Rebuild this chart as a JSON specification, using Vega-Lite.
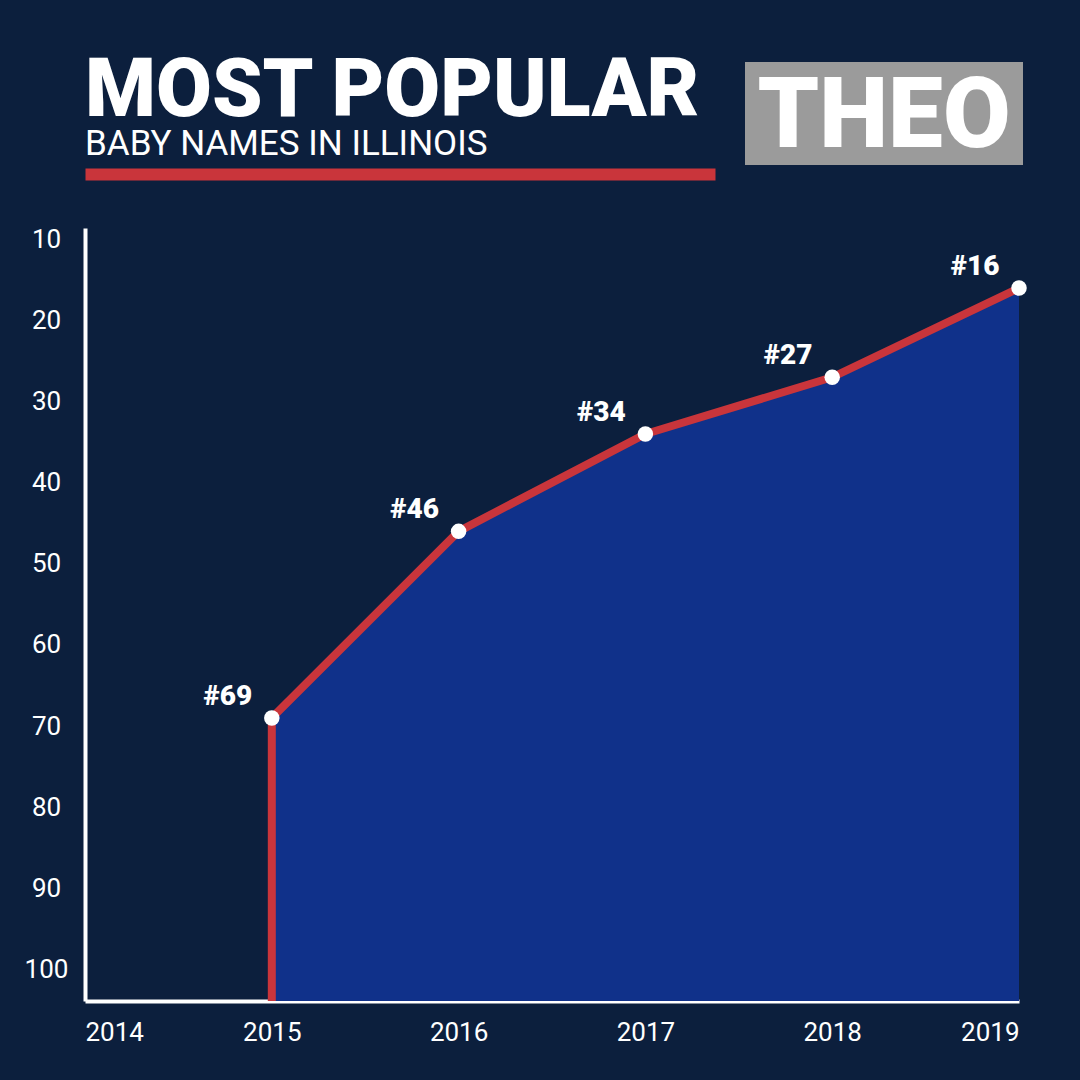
{
  "$schema": "https://vega.github.io/schema/vega-lite/v6.json",
  "background": "#0c1f3d",
  "padding": {"left": 24, "top": 51, "right": 57, "bottom": 35},
  "bounds": "flush",
  "spacing": 166,
  "config": {
    "view": {"stroke": null},
    "font": "Roboto",
    "axis": {
      "labelFont": "Roboto",
      "labelFontSize": 26,
      "labelColor": "white",
      "domainColor": "white",
      "domainWidth": 4,
      "ticks": false,
      "tickSize": 0,
      "grid": false,
      "title": null
    }
  },
  "datasets": {
    "ranks": [
      {"year": 2015, "rank": 69, "label": "#69"},
      {"year": 2016, "rank": 46, "label": "#46"},
      {"year": 2017, "rank": 34, "label": "#34"},
      {"year": 2018, "rank": 27, "label": "#27"},
      {"year": 2019, "rank": 16, "label": "#16"}
    ],
    "name": [{"name": "THEO"}]
  },
  "vconcat": [
    {
      "spacing": 30,
      "hconcat": [
        {
          "width": 630,
          "height": 112,
          "title": {
            "text": "MOST POPULAR",
            "subtitle": "BABY NAMES IN ILLINOIS",
            "anchor": "start",
            "frame": "group",
            "font": "Roboto",
            "fontSize": 81,
            "fontWeight": 900,
            "color": "white",
            "subtitleFont": "Roboto",
            "subtitleFontSize": 35,
            "subtitleFontWeight": "normal",
            "subtitleColor": "white",
            "subtitlePadding": -6,
            "offset": -101
          },
          "data": {"name": "name"},
          "mark": {"type": "text", "opacity": 0},
          "encoding": {
            "text": {"field": "name"},
            "x": {
              "datum": 0,
              "type": "quantitative",
              "scale": {"domain": [0, 1], "nice": false},
              "axis": {"orient": "bottom", "labels": false, "ticks": false, "domainColor": "#c9353b", "domainWidth": 12, "domainCap": "butt"}
            }
          }
        },
        {
          "width": 278,
          "height": 103,
          "view": {"fill": "#9b9b9b", "stroke": null},
          "data": {"name": "name"},
          "mark": {
            "type": "text",
            "font": "Roboto",
            "fontSize": 98,
            "fontWeight": 900,
            "color": "white",
            "align": "center",
            "baseline": "middle",
            "dy": 4
          },
          "encoding": {"text": {"field": "name"}}
        }
      ]
    },
    {
      "width": 934,
      "height": 773,
      "data": {"name": "ranks"},
      "encoding": {
        "x": {
          "field": "year",
          "type": "quantitative",
          "scale": {"domain": [2014, 2019], "nice": false, "zero": false},
          "axis": {"values": [2014, 2015, 2016, 2017, 2018, 2019], "format": "d", "labelFlush": true, "labelPadding": 18}
        },
        "y": {
          "field": "rank",
          "type": "quantitative",
          "scale": {"domain": [8.6, 103.9], "nice": false, "zero": false, "reverse": true},
          "axis": {"values": [10, 20, 30, 40, 50, 60, 70, 80, 90, 100], "labelAlign": "center", "labelPadding": 39}
        }
      },
      "layer": [
        {
          "mark": {"type": "area", "color": "#10318a", "opacity": 1},
          "encoding": {"y2": {"datum": 103.9}}
        },
        {
          "transform": [{"filter": "datum.year == 2015"}],
          "mark": {"type": "rule", "color": "#c9353b", "strokeWidth": 8},
          "encoding": {"y2": {"datum": 103.9}}
        },
        {
          "mark": {"type": "line", "color": "#c9353b", "strokeWidth": 8, "strokeJoin": "round"}
        },
        {
          "mark": {"type": "circle", "color": "white", "opacity": 1, "size": 240}
        },
        {
          "mark": {
            "type": "text",
            "color": "white",
            "font": "Roboto",
            "fontSize": 28,
            "fontWeight": 900,
            "dx": -44,
            "dy": -21,
            "align": "center",
            "baseline": "middle"
          },
          "encoding": {"text": {"field": "label"}}
        }
      ]
    }
  ]
}
